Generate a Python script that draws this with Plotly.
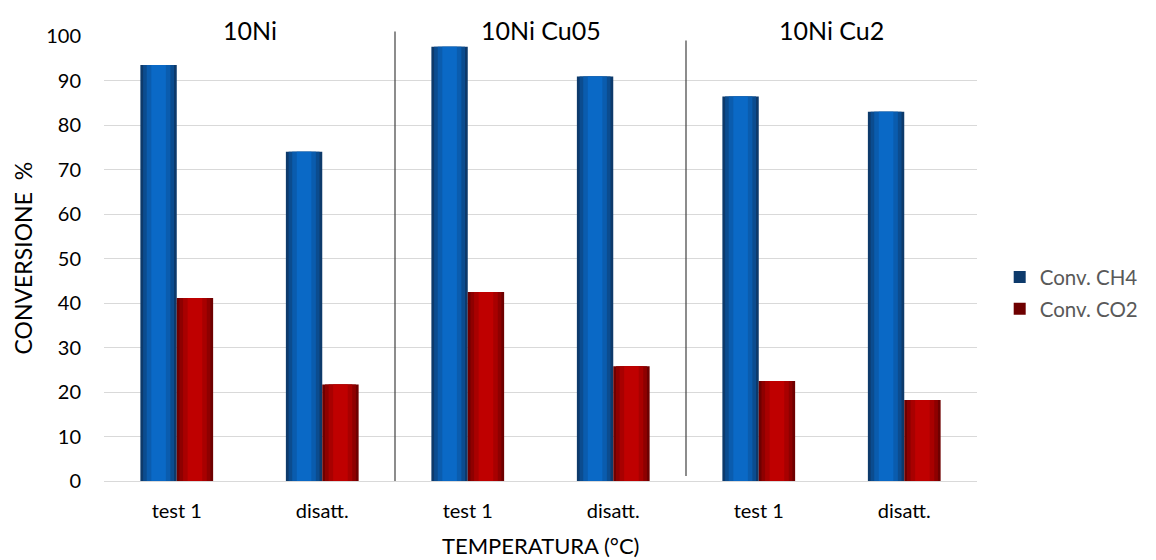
import plotly.graph_objects as go

categories = ["test 1", "disatt.", "test 1", "disatt.", "test 1", "disatt."]
ch4 = [93.5, 74.0, 97.6, 90.9, 86.4, 83.0]
co2 = [41.1, 21.7, 42.5, 25.8, 22.5, 18.2]
groups = ["10Ni", "10Ni Cu05", "10Ni Cu2"]
series_names = ["Conv. CH4", "Conv. CO2"]

FONT = "Lato"
xs = list(range(len(categories)))
BW = 0.25

fig = go.Figure()

blue_layers = ["#0d3a6b", "#0b4c8f", "#0a5cae", "#0a69c6"]
red_layers = ["#6e0000", "#8e0000", "#a80000", "#bf0000"]
fracs = [1.0, 0.85, 0.65, 0.4]

for vals, cols, name, off0 in [
    (ch4, blue_layers, series_names[0], -BW),
    (co2, red_layers, series_names[1], 0.0),
]:
    for i, (f, c) in enumerate(zip(fracs, cols)):
        w = BW * f
        fig.add_trace(go.Bar(
            x=xs, y=vals, width=[w] * len(xs), offset=[off0 + (BW - w) / 2] * len(xs),
            marker=dict(color=c, line=dict(width=0)),
            name=name, showlegend=(i == 0), legendgroup=name,
            hoverinfo="skip" if i else None,
        ))

fig.update_layout(
    width=1148, height=552,
    margin=dict(l=96, r=179, t=28, b=79),
    barmode="overlay",
    plot_bgcolor="white", paper_bgcolor="white",
    font=dict(family=FONT, size=20, color="#000000"),
    showlegend=True,
    legend=dict(x=1.026, y=0.503, xanchor="left", yanchor="top",
                font=dict(size=20.5, color="#595959"), bgcolor="rgba(0,0,0,0)",
                itemwidth=30, tracegroupgap=2),
    xaxis=dict(tickmode="array", tickvals=xs, ticktext=categories,
               range=[-0.5, len(xs) - 0.5], showgrid=False, zeroline=False,
               showline=False, ticks="", ticklabelstandoff=16,
               tickfont=dict(size=20, color="#000000")),
    yaxis=dict(range=[0, 100], dtick=10, showgrid=True, gridcolor="#d9d9d9",
               gridwidth=1.3, zeroline=True, zerolinecolor="#d9d9d9", zerolinewidth=1.3,
               showline=False, ticks="", ticklabelstandoff=22,
               tickfont=dict(size=20, color="#000000")),
)

# group separators
for xv, y0, y1 in [(1.5, 0.0, 1.01), (3.5, 0.011, 0.99)]:
    fig.add_shape(type="line", xref="x", yref="paper", x0=xv, x1=xv,
                  y0=y0, y1=y1, line=dict(color="#404040", width=1.2))

# group labels
for gi, g in enumerate(groups):
    fig.add_annotation(x=2 * gi + 0.5, y=1.0, xref="x", yref="paper",
                       text=g, showarrow=False, yanchor="middle", yshift=6,
                       font=dict(size=25, color="#000000"))

# axis titles
fig.add_annotation(x=0, y=0.5, xref="paper", yref="paper", xshift=-82,
                   xanchor="center", yanchor="middle",
                   text="CONVERSIONE  %", textangle=-90, showarrow=False,
                   font=dict(size=23, color="#000000"))
fig.add_annotation(x=0.5, y=0, xref="paper", yref="paper", yshift=-64,
                   xanchor="center", yanchor="middle",
                   text="TEMPERATURA (°C)", showarrow=False,
                   font=dict(size=22, color="#000000"))

fig.write_html("out.html")
